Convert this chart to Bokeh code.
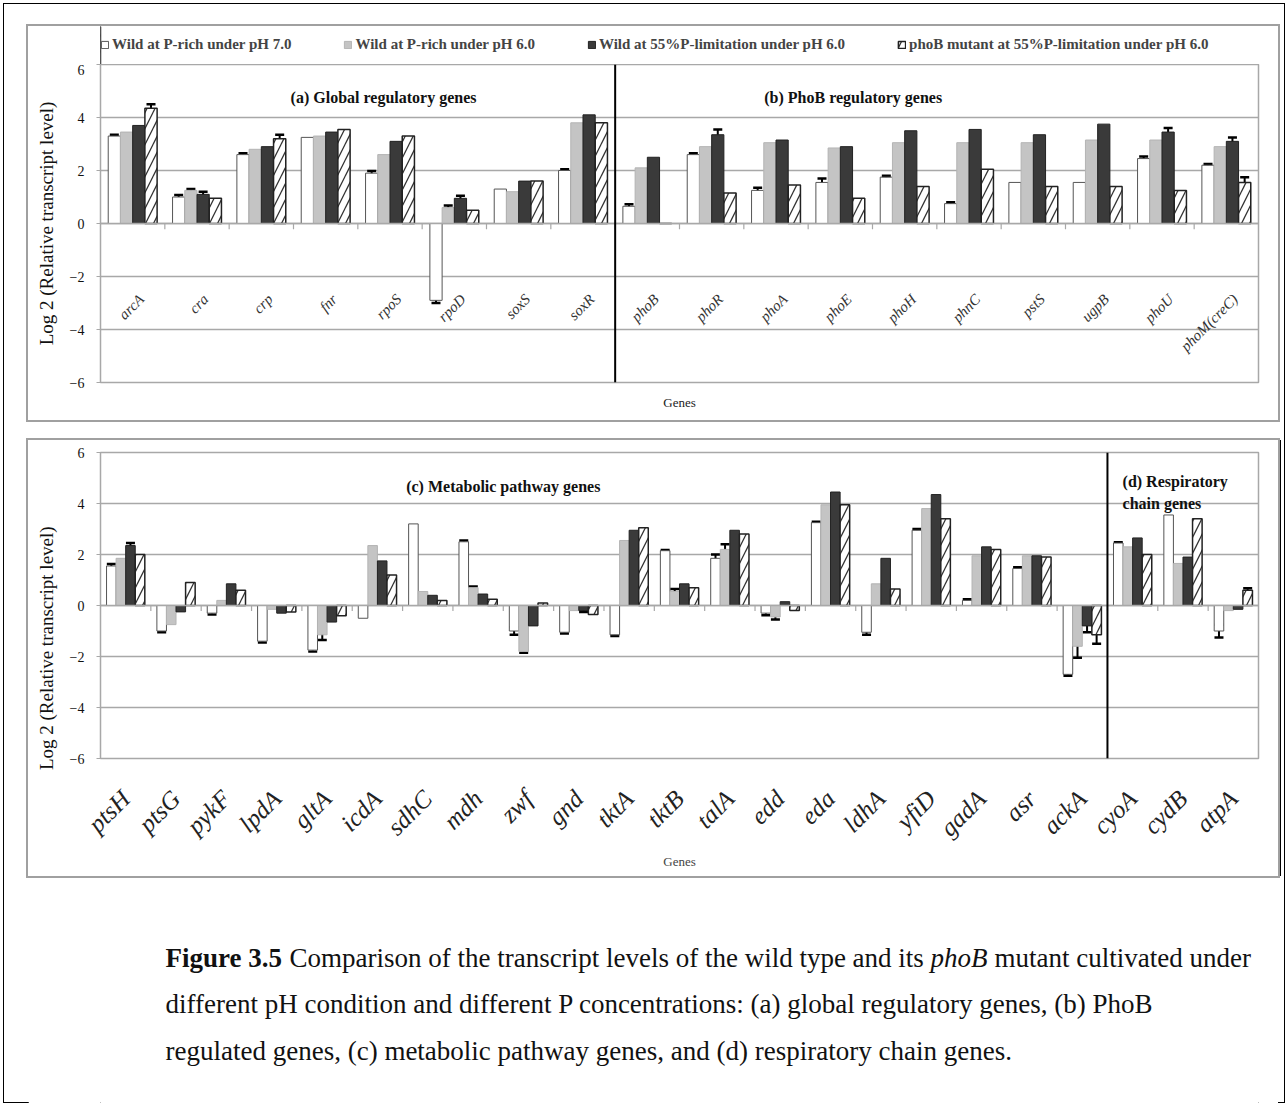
import math
from bokeh.plotting import figure
from bokeh.models import (FactorRange, Range1d, Span, Label, Legend, LegendItem, Title,
                          ColumnDataSource, FixedTicker, Whisker, TeeHead)
from bokeh.transform import dodge
from bokeh.layouts import column
from bokeh.embed import file_html
from bokeh.resources import INLINE
from bokeh.core.properties import value

# ---------------- data ----------------
series_names = ["Wild at P-rich under pH 7.0",
                "Wild at P-rich under pH 6.0",
                "Wild at 55%P-limitation under pH 6.0",
                "phoB mutant at 55%P-limitation under pH 6.0"]

genes_a = ["arcA", "cra", "crp", "fnr", "rpoS", "rpoD", "soxS", "soxR"]
genes_b = ["phoB", "phoR", "phoA", "phoE", "phoH", "phnC", "pstS", "ugpB", "phoU", "phoM(creC)"]
top_s1 = [3.3, 1.0, 2.6, 3.25, 1.9, -2.9, 1.3, 2.0, 0.65, 2.6, 1.25, 1.55, 1.75, 0.75, 1.55, 1.55, 2.45, 2.2]
top_s2 = [3.45, 1.25, 2.8, 3.3, 2.6, 0.6, 1.2, 3.8, 2.1, 2.9, 3.05, 2.85, 3.05, 3.05, 3.05, 3.15, 3.15, 2.9]
top_s3 = [3.7, 1.1, 2.9, 3.45, 3.1, 0.95, 1.6, 4.1, 2.5, 3.35, 3.15, 2.9, 3.5, 3.55, 3.35, 3.75, 3.45, 3.1]
top_s4 = [4.35, 0.95, 3.2, 3.55, 3.3, 0.5, 1.6, 3.8, 0.0, 1.15, 1.45, 0.95, 1.4, 2.05, 1.4, 1.4, 1.25, 1.55]
top_e1 = [0.05, 0.08, 0.05, 0, 0.08, 0.1, 0, 0.05, 0.08, 0.05, 0.1, 0.15, 0.05, 0.05, 0, 0, 0.08, 0.05]
top_e2 = [0, 0.05, 0, 0, 0, 0.08, 0, 0, 0, 0, 0, 0, 0, 0, 0, 0, 0, 0]
top_e3 = [0, 0.1, 0, 0, 0, 0.1, 0, 0, 0, 0.2, 0, 0, 0, 0, 0, 0, 0.15, 0.15]
top_e4 = [0.15, 0, 0.15, 0, 0, 0, 0, 0, 0, 0, 0, 0, 0, 0, 0, 0, 0, 0.2]

genes_c = ["ptsH", "ptsG", "pykF", "lpdA", "gltA", "icdA", "sdhC", "mdh", "zwf", "gnd",
           "tktA", "tktB", "talA", "edd", "eda", "ldhA", "yfiD", "gadA", "asr", "ackA"]
genes_d = ["cyoA", "cydB", "atpA"]
bot_s1 = [1.55, -1.0, -0.3, -1.4, -1.75, -0.5, 3.2, 2.5, -1.0, -1.05, -1.15, 2.15, 1.85, -0.3, 3.25, -1.05, 2.95, 0.2, 1.45, -2.7, 2.45, 3.55, -1.0]
bot_s2 = [1.85, -0.75, 0.2, -0.15, -1.15, 2.35, 0.55, 0.7, -1.8, -0.2, 2.55, 0.55, 2.2, -0.45, 3.95, 0.85, 3.8, 1.95, 1.95, -1.6, 2.3, 1.65, -0.2]
bot_s3 = [2.35, -0.25, 0.85, -0.3, -0.65, 1.75, 0.4, 0.45, -0.8, -0.2, 2.95, 0.85, 2.95, 0.15, 4.45, 1.85, 4.35, 2.3, 1.95, -0.8, 2.65, 1.9, -0.15]
bot_s4 = [2.0, 0.9, 0.6, -0.25, -0.4, 1.2, 0.2, 0.25, 0.1, -0.35, 3.05, 0.7, 2.8, -0.2, 3.95, 0.65, 3.4, 2.2, 1.9, -1.15, 2.0, 3.4, 0.6]
bot_e1 = [0.08, 0.05, 0.05, 0.05, 0.05, 0, 0, 0.05, 0.15, 0.05, 0.05, 0.03, 0.15, 0.08, 0.03, 0.1, 0.05, 0.05, 0.05, 0.05, 0.03, 0, 0.25]
bot_e2 = [0, 0, 0, 0, 0.2, 0, 0, 0.05, 0.05, 0, 0, 0.1, 0.2, 0.1, 0, 0, 0, 0, 0, 0.45, 0, 0, 0]
bot_e3 = [0.1, 0, 0, 0, 0, 0, 0, 0, 0, 0.05, 0, 0, 0, 0, 0, 0, 0, 0, 0, 0.25, 0, 0, 0]
bot_e4 = [0, 0, 0, 0, 0, 0, 0, 0, 0, 0, 0, 0, 0, 0, 0, 0, 0, 0, 0, 0.35, 0, 0, 0.08]

y_ticks = [-6, -4, -2, 0, 2, 4, 6]

# ---------------- styles ----------------
SERIF = "Liberation Serif"
offsets = [-0.285, -0.095, 0.095, 0.285]
bar_w = 0.19
styles = [
    dict(fill_color="white", line_color="#555555", line_width=1),
    dict(fill_color="#c4c4c4", line_color="#b4b4b4", line_width=1),
    dict(fill_color="#3a3a3a", line_color="#222222", line_width=1),
    dict(fill_color="white", line_color="#222222", line_width=1.5,
         hatch_pattern="/", hatch_color="#333333", hatch_scale=16, hatch_weight=1.3),
]
GRID = "#a8a8a8"
FIG_W = 1250          # page 1288 minus outer margins 28 (left) + 10 (right)
BL, BR = 72, 20       # frame borders -> every frame spans page x 100..1258
YLABEL = "Log 2 (Relative transcript level)"


def base_fig(genes, height, top, bottom, margin=None, ylabel=YLABEL):
    kw = dict(margin=margin) if margin is not None else {}
    p = figure(width=FIG_W, height=height, x_range=FactorRange(*genes, range_padding=0),
               y_range=Range1d(-6, 6), output_backend="svg", toolbar_location=None,
               min_border_top=top, min_border_bottom=bottom,
               min_border_left=BL, min_border_right=BR, **kw)
    p.background_fill_color = "white"
    p.border_fill_color = "white"
    p.outline_line_color = GRID
    p.outline_line_width = 1.5
    p.xgrid.grid_line_color = None
    p.ygrid.ticker = FixedTicker(ticks=y_ticks)
    p.ygrid.grid_line_color = GRID
    p.ygrid.grid_line_width = 1.5
    p.yaxis.ticker = FixedTicker(ticks=y_ticks)
    p.yaxis.axis_line_color = GRID
    p.yaxis.major_tick_line_color = GRID
    p.yaxis.major_tick_in = 0
    p.yaxis.major_tick_out = 4
    p.yaxis.minor_tick_line_color = None
    p.yaxis.major_label_standoff = 12
    p.yaxis.major_label_text_font = SERIF
    p.yaxis.major_label_text_font_size = "14px"
    p.yaxis.major_label_text_color = "#111111"
    p.yaxis.axis_label = ylabel
    p.yaxis.axis_label_text_font = SERIF
    p.yaxis.axis_label_text_font_style = "normal"
    p.yaxis.axis_label_text_font_size = "19px"
    p.yaxis.axis_label_text_color = "#111111"
    p.yaxis.axis_label_standoff = 10
    return p


def draw_bars(p, genes, vals, errs):
    data = dict(gene=genes)
    for k in range(4):
        data["s%d" % k] = vals[k]
    src = ColumnDataSource(data)
    for k in range(4):
        p.vbar(x=dodge("gene", offsets[k], range=p.x_range), top="s%d" % k,
               width=bar_w, source=src, **styles[k])
    p.add_layout(Span(location=0, dimension="width", line_color=GRID, line_width=1.5))
    bounds = list(range(1, len(genes)))
    p.segment(x0=bounds, x1=bounds, y0=[0] * len(bounds), y1=[-0.22] * len(bounds),
              line_color=GRID, line_width=1.2)
    for k in range(4):
        idx = [i for i in range(len(genes)) if errs[k][i] > 0]
        es = ColumnDataSource(dict(gene=[genes[i] for i in idx],
                                   hi=[vals[k][i] + errs[k][i] for i in idx],
                                   lo=[vals[k][i] - errs[k][i] for i in idx]))
        p.add_layout(Whisker(base=dodge("gene", offsets[k], range=p.x_range), upper="hi",
                             lower="lo", source=es, line_color="black", line_width=2,
                             upper_head=TeeHead(size=9, line_width=2.5, line_color="black"),
                             lower_head=TeeHead(size=9, line_width=2.5, line_color="black")))


def bold_label(x, y, text, align="center"):
    return Label(x=x, y=y, text=text, text_align=align, text_baseline="middle",
                 text_font=SERIF, text_font_style="bold", text_font_size="16px",
                 text_color="#111111")


# ---------------- legend strip (page y 26..64) ----------------
pl = figure(width=FIG_W, height=38, x_range=Range1d(0, 1), y_range=Range1d(0, 1),
            output_backend="svg", toolbar_location=None,
            min_border_left=BL, min_border_right=BR, min_border_top=0, min_border_bottom=0)
pl.axis.visible = False
pl.grid.grid_line_color = None
pl.outline_line_color = None
# legend proxies: one bar each, placed outside the strip's visible range
proxies = [pl.vbar(x=[-5], top=[1], width=0.1, **styles[k]) for k in range(4)]
legend = Legend(items=[LegendItem(label=series_names[k], renderers=[proxies[k]]) for k in range(4)],
                orientation="horizontal", location=(0, 11), spacing=52, padding=0, margin=0,
                glyph_width=9, glyph_height=9, label_standoff=3,
                label_text_font=SERIF, label_text_font_style="bold", label_text_font_size="15px",
                border_line_color=None, background_fill_alpha=0)
pl.add_layout(legend, "center")

# ---------------- top chart (page y 64..420) ----------------
genes_top = genes_a + genes_b
p1 = base_fig(genes_top, 356, top=0, bottom=38)
draw_bars(p1, genes_top, [top_s1, top_s2, top_s3, top_s4], [top_e1, top_e2, top_e3, top_e4])
p1.xaxis.visible = False
p1.add_layout(Title(text="Genes", align="center", text_font=SERIF, text_font_style="normal",
                    text_font_size="13px", text_color="#222222", standoff=20), "below")
lab_src = ColumnDataSource(dict(gene=genes_top))
p1.text(x=dodge("gene", 0.05, range=p1.x_range), y=-2.55, text="gene", source=lab_src,
        angle=math.pi / 4, text_align="right", text_baseline="top",
        text_font=value(SERIF), text_font_style="italic", text_font_size="15px",
        text_color="#333333")
p1.add_layout(Span(location=len(genes_a), dimension="height", line_color="black", line_width=2))
p1.add_layout(bold_label(len(genes_a) / 2 + 0.4, 4.75, "(a) Global regulatory genes"))
p1.add_layout(bold_label(len(genes_a) + 3.7, 4.75, "(b) PhoB regulatory genes"))

top_block = column(pl, p1, spacing=0, margin=(26, 10, 12, 28),
                   styles={"outline": "2px solid #a0a0a0"})

# ---------------- bottom chart (page y 440..876) ----------------
genes_bot = genes_c + genes_d
p2 = base_fig(genes_bot, 436, top=12, bottom=118, margin=(8, 10, 14, 28),
              ylabel=YLABEL + "\u00a0" * 18)
p2.styles = {"outline": "2px solid #a0a0a0", "box-shadow": "3px 0 0 0 #000000"}
draw_bars(p2, genes_bot, [bot_s1, bot_s2, bot_s3, bot_s4], [bot_e1, bot_e2, bot_e3, bot_e4])
p2.xaxis.axis_line_color = None
p2.xaxis.major_tick_line_color = None
p2.xaxis.major_label_orientation = math.pi / 4
p2.xaxis.major_label_standoff = 30
p2.xaxis.major_label_text_font = SERIF
p2.xaxis.major_label_text_font_style = "italic"
p2.xaxis.major_label_text_font_size = "25px"
p2.xaxis.major_label_text_color = "#222222"
p2.xaxis.axis_label = "Genes"
p2.xaxis.axis_label_text_font = SERIF
p2.xaxis.axis_label_text_font_style = "normal"
p2.xaxis.axis_label_text_font_size = "13px"
p2.xaxis.axis_label_standoff = 0
p2.add_layout(Span(location=len(genes_c), dimension="height", line_color="black", line_width=2))
p2.add_layout(bold_label(8.0, 4.65, "(c) Metabolic pathway genes"))
p2.add_layout(bold_label(len(genes_c) + 0.3, 4.85, "(d) Respiratory", align="left"))
p2.add_layout(bold_label(len(genes_c) + 0.3, 4.0, "chain genes", align="left"))

# ---------------- caption (page y 890..1106) ----------------
H3 = 1106 - 432 - 458
p3 = figure(width=FIG_W, height=H3, x_range=Range1d(28 + BL, 1288 - 10 - BR), y_range=Range1d(H3, 0),
            output_backend="svg", toolbar_location=None, margin=(0, 10, 0, 28),
            min_border_left=BL, min_border_right=BR, min_border_top=0, min_border_bottom=0)
p3.axis.visible = False
p3.grid.grid_line_color = None
p3.outline_line_color = None
p3.border_fill_color = "white"
CAP = "27px"
cap_parts = [
    (165, 67, "Figure 3.5", "bold"),
    (289, 67, "Comparison of the transcript levels of the wild type and its", "normal"),
    (930, 67, "phoB", "italic"),
    (994, 67, "mutant cultivated under", "normal"),
    (165, 113, "different pH condition and different P concentrations: (a) global regulatory genes, (b) PhoB", "normal"),
    (165, 160, "regulated genes, (c) metabolic pathway genes, and (d) respiratory chain genes.", "normal"),
]
for x, y, t, st in cap_parts:
    p3.add_layout(Label(x=x, y=y, text=t, text_align="left", text_baseline="middle",
                        text_font=SERIF, text_font_style=st, text_font_size=CAP, text_color="#111111"))

layout = column(top_block, p2, p3, spacing=0,
                styles={"outline": "1.5px solid #000000", "outline-offset": "-4px"})
open("out.html", "w").write(file_html(layout, INLINE))
